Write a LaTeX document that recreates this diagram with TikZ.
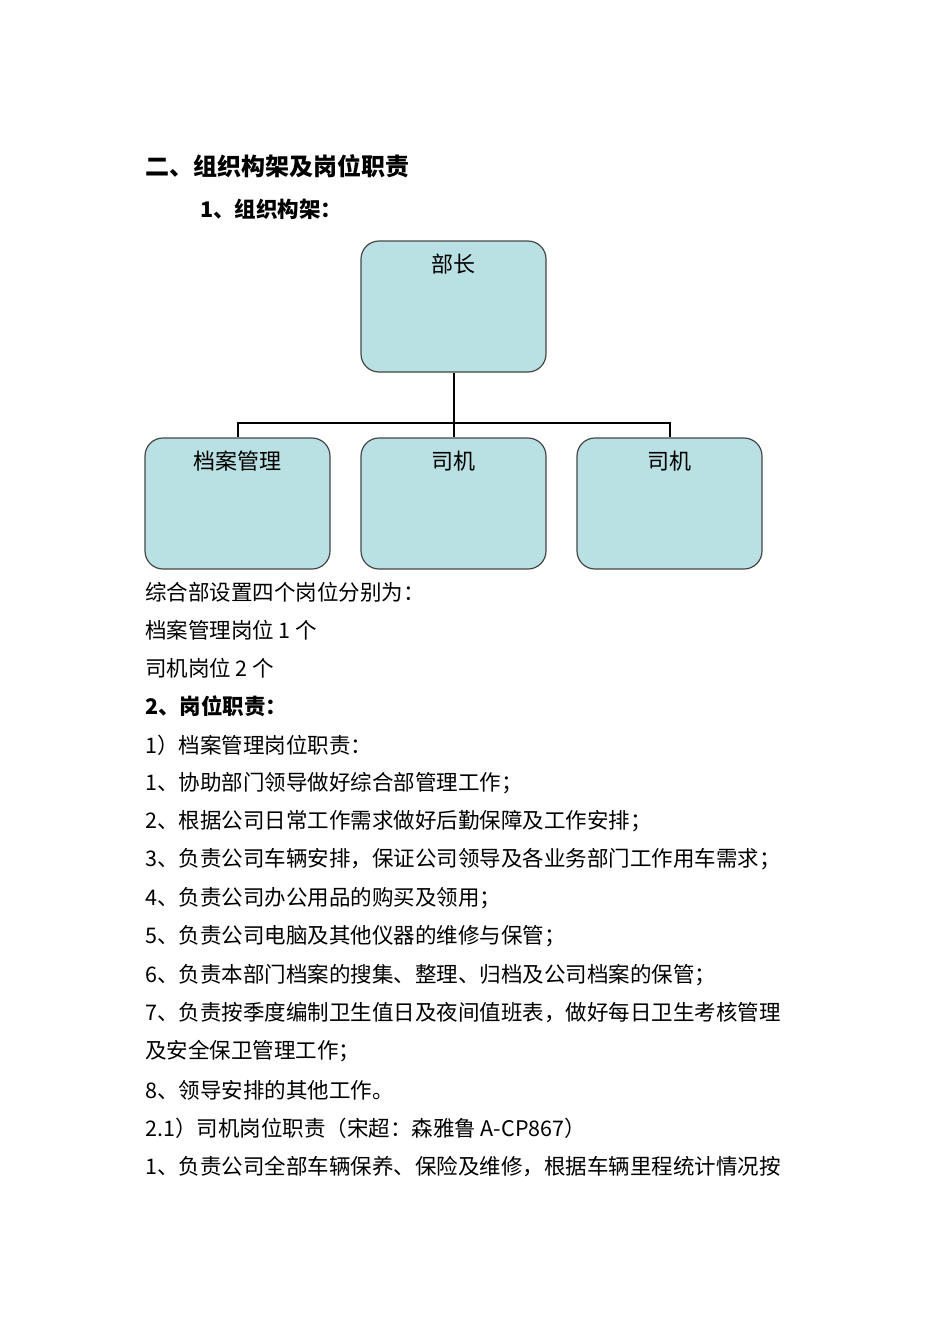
\documentclass[tikz,border=0pt]{standalone}
\usepackage{fontspec}
\setmainfont{Noto Sans CJK SC}
\newfontfamily\cjkb{Noto Sans CJK SC Bold}
\definecolor{boxfill}{RGB}{185,224,226}
\definecolor{boxline}{RGB}{70,70,70}
\begin{document}
\begin{tikzpicture}[x=1pt,y=-1pt,
  orgbox/.style={draw=boxline,line width=1.2pt,fill=boxfill,rounded corners=18pt,minimum width=185pt,minimum height=131pt,inner sep=0pt},
  lbl/.style={font=\fontsize{22}{26}\selectfont,anchor=north},
  txt/.style={anchor=west,inner sep=0pt,font=\fontsize{21.5}{26}\selectfont},
  btxt/.style={txt,font=\fontsize{21.5}{26}\selectfont\bfseries}]
\useasboundingbox (0,0) rectangle (950,1344);
\node[orgbox] (bz) at (453.5,306.5) {};
\node[orgbox] (da) at (237.5,503.5) {};
\node[orgbox] (s1) at (453.5,503.5) {};
\node[orgbox] (s2) at (669.5,503.5) {};
\node[lbl] at (453.5,250) {部长};
\node[lbl] at (237.5,447) {档案管理};
\node[lbl] at (453.5,447) {司机};
\node[lbl] at (669.5,447) {司机};
\coordinate (j) at (453.5,423);
\draw[line width=2pt] (bz.south) -- (j);
\draw[line width=2pt] (da.north) |- (j) -| (s2.north);
\draw[line width=2pt] (j) -- (s1.north);
\node[btxt,font=\fontsize{24}{28}\selectfont\bfseries] at (145,166) {二、组织构架及岗位职责};
\node[btxt] at (200,209) {1、组织构架：};
\node[txt] at (145,592) {综合部设置四个岗位分别为：};
\node[txt] at (145,630) {档案管理岗位 1 个};
\node[txt] at (145,668) {司机岗位 2 个};
\node[btxt] at (145,706) {2、岗位职责：};
\node[txt] at (145,745) {1）档案管理岗位职责：};
\node[txt] at (145,783) {1、协助部门领导做好综合部管理工作；};
\node[txt] at (145,821) {2、根据公司日常工作需求做好后勤保障及工作安排；};
\node[txt] at (145,859) {3、负责公司车辆安排，保证公司领导及各业务部门工作用车需求；};
\node[txt] at (145,898) {4、负责公司办公用品的购买及领用；};
\node[txt] at (145,936) {5、负责公司电脑及其他仪器的维修与保管；};
\node[txt] at (145,975) {6、负责本部门档案的搜集、整理、归档及公司档案的保管；};
\node[txt] at (145,1013) {7、负责按季度编制卫生值日及夜间值班表，做好每日卫生考核管理};
\node[txt] at (145,1051) {及安全保卫管理工作；};
\node[txt] at (145,1090) {8、领导安排的其他工作。};
\node[txt] at (145,1128) {2.1）司机岗位职责（宋超：森雅鲁 A-CP867）};
\node[txt] at (145,1166) {1、负责公司全部车辆保养、保险及维修，根据车辆里程统计情况按};
\end{tikzpicture}
\end{document}
